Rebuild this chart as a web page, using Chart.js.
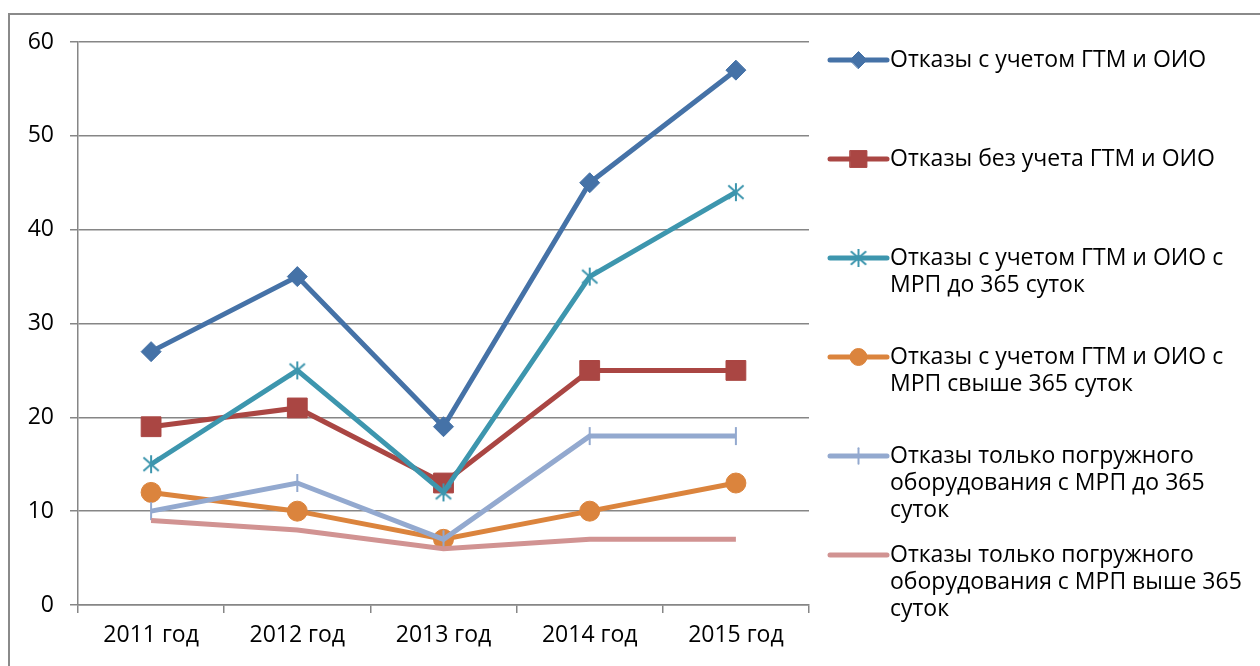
<!DOCTYPE html>
<html>
<head>
<meta charset="utf-8">
<script src="https://cdn.jsdelivr.net/npm/chart.js@4/dist/chart.umd.min.js"></script>
<style>
  html, body { margin: 0; padding: 0; background: #fff; }
  #wrap { width: 1260px; height: 666px; position: relative; }
</style>
</head>
<body>
<div id="wrap"><canvas id="c" width="1260" height="666"></canvas></div>
<script>
// Categories and series values
const years = ['2011 год', '2012 год', '2013 год', '2014 год', '2015 год'];
const withGtmOio        = [27, 35, 19, 45, 57];
const withoutGtmOio     = [19, 21, 13, 25, 25];
const withGtmOioUpTo365 = [15, 25, 12, 35, 44];
const withGtmOioOver365 = [12, 10, 7, 10, 13];
const pumpOnlyUpTo365   = [10, 13, 7, 18, 18];
const pumpOnlyOver365   = [9, 8, 6, 7, 7];
const yTicks = [0, 10, 20, 30, 40, 50, 60];

// Legend labels, already broken into lines
const seriesNames = [
  ['Отказы с учетом ГТМ и ОИО'],
  ['Отказы без учета ГТМ и ОИО'],
  ['Отказы с учетом ГТМ и ОИО с', 'МРП до 365 суток'],
  ['Отказы с учетом ГТМ и ОИО с', 'МРП свыше 365 суток'],
  ['Отказы только погружного', 'оборудования с МРП до 365', 'суток'],
  ['Отказы только погружного', 'оборудования с МРП выше 365', 'суток']
];

const FONT = '"Open Sans", "Liberation Sans", sans-serif';

// Asterisk marker: an X with a vertical stroke
function asterisk(color) {
  const s = 24, c = document.createElement('canvas');
  c.width = s; c.height = s;
  const g = c.getContext('2d');
  g.strokeStyle = color; g.lineWidth = 2;
  const m = s / 2, r = 9;
  g.beginPath();
  g.moveTo(m - r * 0.85, m - r * 0.75); g.lineTo(m + r * 0.85, m + r * 0.75);
  g.moveTo(m + r * 0.85, m - r * 0.75); g.lineTo(m - r * 0.85, m + r * 0.75);
  g.moveTo(m, m - r); g.lineTo(m, m + r);
  g.stroke();
  return c;
}

const colors = ['#4572A7', '#AA4643', '#3D96AE', '#DB843D', '#93A9CF', '#D19392'];
const values = [withGtmOio, withoutGtmOio, withGtmOioUpTo365, withGtmOioOver365, pumpOnlyUpTo365, pumpOnlyOver365];
const markers = [
  { pointStyle: 'rectRot', pointRadius: 10, pointBorderWidth: 1 },
  { pointStyle: 'rect', pointRadius: 14, pointBorderWidth: 1 },
  { pointStyle: asterisk(colors[2]), pointRadius: 10, pointBorderWidth: 2 },
  { pointStyle: 'circle', pointRadius: 10, pointBorderWidth: 1 },
  { pointStyle: 'line', pointRadius: 9, pointBorderWidth: 2, pointRotation: 90 },
  { pointStyle: false, pointRadius: 0, pointBorderWidth: 0 }
];

const datasets = values.map((v, i) => Object.assign({
  label: seriesNames[i].join(' '),
  data: v,
  borderColor: colors[i],
  backgroundColor: colors[i],
  pointBackgroundColor: colors[i],
  pointBorderColor: colors[i],
  borderWidth: 5,
  tension: 0,
  order: -i
}, markers[i]));

// Frame around the whole chart (open at right and bottom)
const framePlugin = {
  id: 'frame',
  beforeDraw(chart) {
    const ctx = chart.ctx;
    ctx.save();
    ctx.strokeStyle = '#8a8a8a';
    ctx.lineWidth = 2;
    ctx.beginPath();
    ctx.moveTo(9, 700);
    ctx.lineTo(9, 14);
    ctx.lineTo(1300, 14);
    ctx.stroke();
    ctx.restore();
  }
};

// Legend on the right with wrapped labels
const sideLegend = {
  id: 'sideLegend',
  afterDraw(chart) {
    const ctx = chart.ctx;
    const x0 = 830, x1 = 887, tx = 890;
    const firstY = 60, step = 99, lineH = 27;
    ctx.save();
    chart.data.datasets.forEach((ds, i) => {
      const y = firstY + i * step;
      ctx.strokeStyle = ds.borderColor;
      ctx.lineWidth = ds.borderWidth;
      ctx.lineCap = 'round';
      ctx.beginPath();
      ctx.moveTo(x0, y); ctx.lineTo(x1, y);
      ctx.stroke();
      if (ds.pointStyle) {
        ctx.fillStyle = ds.pointBackgroundColor;
        ctx.strokeStyle = ds.pointBorderColor;
        ctx.lineWidth = ds.pointBorderWidth;
        Chart.helpers.drawPoint(ctx, {
          pointStyle: ds.pointStyle,
          radius: ds.pointRadius * 0.85,
          rotation: ds.pointRotation || 0,
          borderWidth: ds.pointBorderWidth
        }, (x0 + x1) / 2, y);
      }
      ctx.fillStyle = '#000';
      ctx.font = '23px ' + FONT;
      ctx.textAlign = 'left';
      ctx.textBaseline = 'middle';
      seriesNames[i].forEach((line, k) => ctx.fillText(line, tx, y + k * lineH));
    });
    ctx.restore();
  }
};

new Chart(document.getElementById('c'), {
  type: 'line',
  data: { labels: years, datasets },
  options: {
    responsive: false,
    animation: false,
    layout: { padding: { left: 0, top: 42, right: 451, bottom: 0 } },
    plugins: { legend: { display: false }, tooltip: { enabled: false } },
    scales: {
      x: {
        offset: true,
        grid: { offset: true, drawOnChartArea: false, drawTicks: true, tickLength: 8, color: '#868686', lineWidth: 1.5 },
        border: { color: '#868686', width: 1.5 },
        ticks: { color: '#000', font: { family: FONT, size: 23 }, padding: 9, maxRotation: 0 },
        afterFit(s) { s.height = 61; }
      },
      y: {
        min: 0, max: 60,
        afterBuildTicks(s) { s.ticks = yTicks.map(v => ({ value: v })); },
        grid: { color: '#868686', lineWidth: 1.5, tickLength: 8 },
        border: { color: '#868686', width: 1.5 },
        ticks: { color: '#000', font: { family: FONT, size: 23 }, padding: 16 },
        afterFit(s) { s.width = 78; }
      }
    }
  },
  plugins: [framePlugin, sideLegend]
});
</script>
</body>
</html>
